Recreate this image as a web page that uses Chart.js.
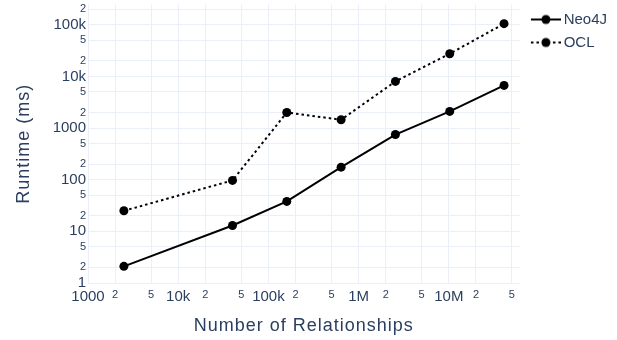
<!DOCTYPE html>
<html>
<head>
<meta charset="utf-8">
<script src="https://cdn.jsdelivr.net/npm/chart.js@4/dist/chart.umd.min.js"></script>
<style>
  html, body { margin: 0; padding: 0; background: #ffffff; }
  #wrap { width: 617px; height: 340px; position: relative; }
</style>
</head>
<body>
<div id="wrap"><canvas id="chart" width="617" height="340"></canvas></div>
<script>
// Runtime benchmark: Neo4J vs OCL over growing graph sizes
const relationships = [2500, 40000, 160000, 640000, 2560000, 10240000, 40960000];
const neo4jRuntime = [2.1, 13, 38, 175, 750, 2100, 6700];
const oclRuntime = [25, 97, 2000, 1450, 8000, 27500, 105000];

// Axis ticks (1-2-5 log grid) and their labels
const xTickValues = [1000, 2000, 5000, 10000, 20000, 50000, 100000, 200000, 500000,
  1000000, 2000000, 5000000, 10000000, 20000000, 50000000];
const xTickLabels = ['1000', '2', '5', '10k', '2', '5', '100k', '2', '5',
  '1M', '2', '5', '10M', '2', '5'];
const yTickValues = [1, 2, 5, 10, 20, 50, 100, 200, 500, 1000, 2000, 5000,
  10000, 20000, 50000, 100000, 200000];
const yTickLabels = ['1', '2', '5', '10', '2', '5', '100', '2', '5', '1000', '2', '5',
  '10k', '2', '5', '100k', '2'];

const INK = '#2a3f5f';
const GRID = '#ebf0f8';
const FONT = "'Liberation Sans', Arial, sans-serif";

function isMajor(v) {
  const l = Math.log10(v);
  return Math.abs(l - Math.round(l)) < 1e-9;
}
function tickFont(ctx) {
  const v = ctx.tick ? ctx.tick.value : 1;
  return isMajor(v) ? { family: FONT, size: 15 } : { family: FONT, size: 11 };
}
function labelFor(values, labels) {
  return (value) => {
    const i = values.findIndex(t => Math.abs(t - value) / t < 1e-6);
    return i >= 0 ? labels[i] : '';
  };
}
function useTicks(values) {
  return (scale) => { scale.ticks = values.map(v => ({ value: v, major: isMajor(v) })); };
}

// Legend swatch: short line with a marker in the middle
function swatch(dash) {
  const c = document.createElement('canvas');
  c.width = 38; c.height = 12;
  const g = c.getContext('2d');
  g.strokeStyle = '#000'; g.lineWidth = 2;
  g.setLineDash(dash);
  g.beginPath(); g.moveTo(8, 6); g.lineTo(38, 6); g.stroke();
  g.setLineDash([]);
  g.fillStyle = '#000';
  g.beginPath(); g.arc(23, 6, 4.5, 0, Math.PI * 2); g.fill();
  return c;
}
const swatches = [swatch([]), swatch([2.5, 3])];

// Axis titles are drawn with the grid layer (below the datasets);
// give that layer slightly open tracking and reset it before the data.
const titleTracking = {
  id: 'titleTracking',
  beforeDraw(chart) { chart.ctx.letterSpacing = '1px'; },
  beforeDatasetsDraw(chart) { chart.ctx.letterSpacing = '0px'; }
};

const toPoints = (ys) => relationships.map((x, i) => ({ x: x, y: ys[i] }));

const chart = new Chart(document.getElementById('chart'), {
  type: 'line',
  plugins: [titleTracking],
  data: {
    datasets: [
      {
        label: 'Neo4J',
        data: toPoints(neo4jRuntime),
        borderColor: '#000', backgroundColor: '#000',
        borderWidth: 2, pointRadius: 4.5, pointHoverRadius: 4.5,
        pointBorderWidth: 0, tension: 0
      },
      {
        label: 'OCL',
        data: toPoints(oclRuntime),
        borderColor: '#000', backgroundColor: '#000',
        borderWidth: 2, borderDash: [2.5, 3], pointRadius: 4.5, pointHoverRadius: 4.5,
        pointBorderWidth: 0, tension: 0
      }
    ]
  },
  options: {
    responsive: false,
    animation: false,
    devicePixelRatio: 1,
    layout: { padding: { top: 4, right: 0, left: 0, bottom: 0 } },
    plugins: {
      tooltip: { enabled: false },
      legend: {
        position: 'right',
        align: 'start',
        labels: {
          usePointStyle: true,
          pointStyleWidth: 28.5,
          padding: 8,
          color: INK,
          font: { family: FONT, size: 15 },
          generateLabels: (c) => {
            const items = Chart.defaults.plugins.legend.labels.generateLabels(c);
            items.forEach((it, i) => { it.pointStyle = swatches[i]; it.fontColor = INK; });
            return items;
          }
        }
      }
    },
    scales: {
      x: {
        type: 'logarithmic',
        min: 1000,
        max: 61000000,
        afterBuildTicks: useTicks(xTickValues),
        afterFit: (s) => { s.height = 57; s.paddingLeft = 0; s.paddingRight = 0; },
        border: { display: false },
        grid: { color: GRID, lineWidth: 1, drawTicks: false, z: -1 },
        ticks: {
          autoSkip: false, maxRotation: 0, padding: 5, z: 1,
          color: INK, font: tickFont,
          callback: labelFor(xTickValues, xTickLabels)
        },
        title: {
          display: true, text: 'Number of Relationships', color: INK,
          font: { family: FONT, size: 18 }, padding: { top: 0, bottom: 3 }
        }
      },
      y: {
        type: 'logarithmic',
        min: 1,
        max: 247000,
        afterBuildTicks: useTicks(yTickValues),
        afterFit: (s) => { s.width = 88; s.paddingTop = 0; s.paddingBottom = 0; },
        border: { display: false },
        grid: { color: GRID, lineWidth: 1, drawTicks: false, z: -1 },
        ticks: {
          autoSkip: false, padding: 2, z: 1,
          color: INK, font: tickFont,
          callback: labelFor(yTickValues, yTickLabels)
        },
        title: {
          display: true, text: 'Runtime (ms)', color: INK,
          font: { family: FONT, size: 18 }, padding: { top: 13, bottom: 0 }
        }
      }
    }
  }
});

// Draw the legend in the top layer, together with the tick labels
chart.legend._layers = () => [{ z: 1, draw: (area) => chart.legend.draw(area) }];
chart.update();
</script>
</body>
</html>
